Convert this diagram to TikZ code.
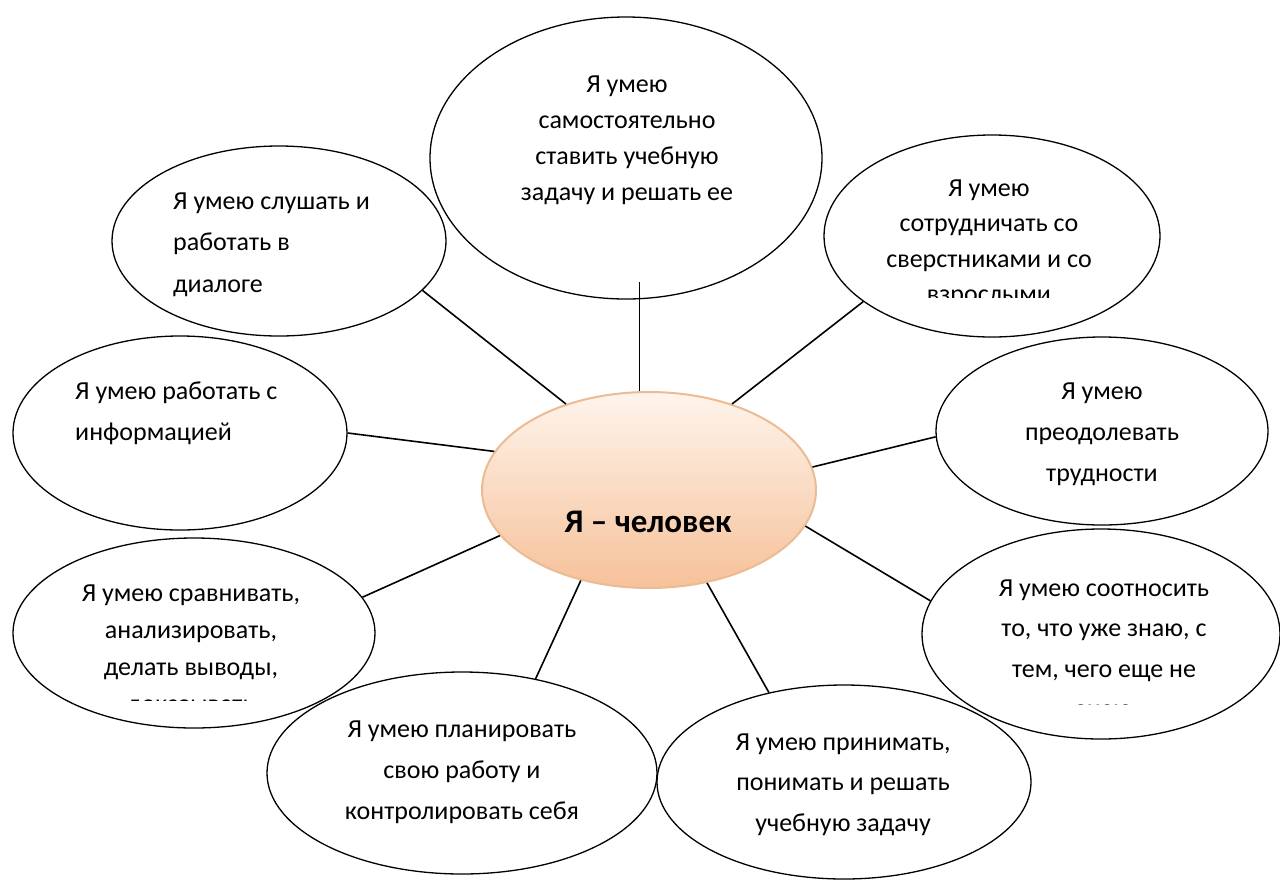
\documentclass[tikz,border=0pt]{standalone}
\usepackage{fontspec}
\setmainfont{Carlito}
\usetikzlibrary{shapes.geometric}
\definecolor{peachtop}{HTML}{FEF4EC}
\definecolor{peachbot}{HTML}{F6C199}
\definecolor{peachedge}{HTML}{EBBB94}
\begin{document}
\begin{tikzpicture}[x=1pt,y=-1pt,
  oval/.style={draw=black, line width=1.3pt, ellipse, inner sep=0pt},
  txt/.style={inner sep=0pt, text=black},
  link/.style={draw=black, line width=1.6pt},
  thinlink/.style={draw=black, line width=0.9pt},
]
\useasboundingbox (0,0) rectangle (1280,879);

% outer ellipses
\node[oval, minimum width=392pt, minimum height=282pt] (top) at (626,158) {};
\node[oval, minimum width=334pt, minimum height=190pt] (tl) at (279,241) {};
\node[oval, minimum width=336pt, minimum height=202pt] (tr) at (992,236) {};
\node[oval, minimum width=334pt, minimum height=194pt] (lf) at (180,433) {};
\node[oval, minimum width=332pt, minimum height=188pt] (rt) at (1102,431) {};
\node[oval, minimum width=362pt, minimum height=190pt] (lb) at (194,633) {};
\node[oval, minimum width=358pt, minimum height=210pt] (rb) at (1101,634) {};
\node[oval, minimum width=390pt, minimum height=202pt] (bl) at (462,773) {};
\node[oval, minimum width=374pt, minimum height=194pt] (br) at (844,782) {};

% central ellipse
\node[ellipse, inner sep=0pt, minimum width=334pt, minimum height=196pt,
      top color=peachtop, bottom color=peachbot, draw=peachedge, line width=2pt] (me) at (649,490) {};
\node[txt, font=\fontsize{33}{36}\selectfont\bfseries] (met) at (648,522) {Я – человек};

% texts
\node[txt, align=center, font=\fontsize{26}{36}\selectfont] (topt) at (627,140)
  {Я умею\\самостоятельно\\ставить учебную\\задачу и решать ее};
\node[txt, align=left, anchor=west, font=\fontsize{26}{41.5}\selectfont] (tlt) at (173,244.5)
  {Я умею слушать и\\работать в\\диалоге};
\begin{scope}
  \clip (820,100) rectangle (1170,297);
  \node[txt, align=center, font=\fontsize{26}{35.5}\selectfont] (trt) at (989,243)
    {Я умею\\сотрудничать со\\сверстниками и со\\взрослыми};
\end{scope}
\node[txt, align=left, anchor=west, font=\fontsize{26}{41}\selectfont] (lft) at (75,413.5)
  {Я умею работать с\\информацией};
\node[txt, align=center, font=\fontsize{26}{41}\selectfont] (rtt) at (1102,434)
  {Я умею\\преодолевать\\трудности};
\begin{scope}
  \clip (10,540) rectangle (380,700);
  \node[txt, align=center, font=\fontsize{26}{37}\selectfont] (lbt) at (191,651)
    {Я умею сравнивать,\\анализировать,\\делать выводы,\\доказывать};
\end{scope}
\begin{scope}
  \clip (920,530) rectangle (1280,704);
  \node[txt, align=center, font=\fontsize{26}{40.5}\selectfont] (rbt) at (1104,648.5)
    {Я умею соотносить\\то, что уже знаю, с\\тем, чего еще не\\знаю};
\end{scope}
\node[txt, align=center, font=\fontsize{26}{41}\selectfont] (blt) at (462,772)
  {Я умею планировать\\свою работу и\\контролировать себя};
\node[txt, align=center, font=\fontsize{26}{40.5}\selectfont] (brt) at (843,784.5)
  {Я умею принимать,\\понимать и решать\\учебную задачу};

% connectors
\coordinate (vt) at (639,282);
\draw[thinlink] (vt) -- (vt |- me.north);
\draw[link] (me.134) -- (tl.-19);
\draw[link] (me.46) -- (tr.207);
\draw[link] (me.166) -- (lf.0);
\draw[link] (me.197) -- (lb.12);
\draw[link] (me.8) -- (rt.182);
\draw[link] (me.-13) -- (rb.169);
\draw[link] (me.233) -- (bl.52);
\draw[link] (me.302) -- (br.130);
\end{tikzpicture}
\end{document}
